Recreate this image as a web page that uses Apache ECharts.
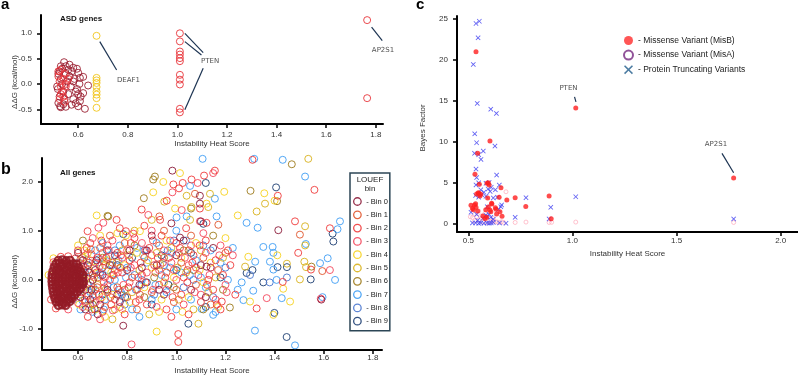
<!DOCTYPE html>
<html lang="en">
<head>
    <title>Instability Heat Score</title>
    <meta charset="utf-8" />
    <script src="https://cdn.jsdelivr.net/npm/echarts@6/dist/echarts.min.js"></script>
    <style>
        html, body { margin: 0; padding: 0; background: #fff; }
        #main { width: 798px; height: 380px; }
    </style>
</head>
<body>
<div id="main"></div>
<script>
    // ---- panel a : ASD genes ----
    let asdDark = [[0.543,0.43],[0.55,0.35],[0.565,0.38],[0.58,0.32],[0.6,0.22],[0.607,0.12],[0.62,0.14],[0.64,-0.03],
        [0.62,-0.18],[0.607,-0.34],[0.627,-0.49],[0.6,-0.44],[0.573,-0.41],[0.527,-0.44],[0.52,-0.375],[0.53,-0.46],
        [0.515,-0.05],[0.518,-0.1],[0.52,0.2],[0.525,0.25],[0.53,0.1],[0.535,0.0],[0.54,-0.15],[0.545,-0.3],[0.55,0.2],
        [0.555,0.05],[0.56,-0.2],[0.565,0.15],[0.57,-0.05],[0.575,0.25],[0.58,-0.3],[0.585,0.1],[0.59,-0.15],[0.595,0.3],
        [0.6,-0.2],[0.595,-0.1],[0.605,0.0],[0.61,-0.25],[0.53,0.35],[0.54,-0.4],[0.55,-0.45],[0.525,-0.25],[0.535,0.3],
        [0.56,0.28],[0.58,0.05],[0.59,-0.38]]
    let asdRed = [[0.52,0.15],[0.525,0.05],[0.53,-0.05],[0.535,-0.15],[0.54,0.1],[0.545,0.2],[0.53,-0.2],[0.525,-0.3],
        [0.55,-0.05],[0.54,-0.25],[0.52,0.25],[0.53,0.28],[0.545,-0.35],[0.56,0.1],[0.55,0.0],
        [1.01,1.0],[1.01,0.84],[1.01,0.64],[1.01,0.58],[1.01,0.51],[1.01,0.45],[1.01,0.18],[1.01,0.085],[1.01,-0.01],
        [1.01,-0.49],[1.01,-0.56],[1.765,1.26],[1.765,-0.28]]
    let asdYellow = [[0.674,0.95],[0.674,0.12],[0.674,0.07],[0.674,0.02],[0.674,-0.06],[0.674,-0.15],[0.674,-0.21],
        [0.674,-0.28],[0.674,-0.47]]
    let asdLabels = [['DEAF1',0.756,0.08],['PTEN',1.095,0.44],['AP2S1',1.784,0.67]]
    let asdPointers = [[[0.687,0.835],[0.755,0.276]],[[1.03,1.0],[1.104,0.62]],[[1.03,0.835],[1.097,0.57]],
        [[1.03,-0.51],[1.104,0.31]],[[1.783,1.12],[1.826,0.855]]]

    // ---- panel b : all genes, by LOUEF bin ----
    let binNames = ['Bin 0','Bin 1','Bin 2','Bin 3','Bin 4','Bin 5','Bin 6','Bin 7','Bin 8','Bin 9']
    let binColors = ['#8c1c3a','#e0552c','#ef3b3b','#f4475c','#f6d11f','#d8b11c','#9d7b1c','#3f9df4','#4b78cf','#1d3e72']
    // the dense bin 0 core near 0.5-0.6
    let bin0Core = [[0.52,0.4],[0.536,0.41],[0.552,0.39],[0.568,0.4],
        [0.51,0.33],[0.524,0.34],[0.538,0.32],[0.553,0.33],[0.567,0.31],[0.581,0.33],[0.595,0.32],
        [0.503,0.26],[0.517,0.25],[0.531,0.27],[0.546,0.25],[0.56,0.26],[0.574,0.24],[0.588,0.26],[0.602,0.25],
        [0.498,0.18],[0.512,0.19],[0.526,0.17],[0.541,0.18],[0.555,0.19],[0.569,0.17],[0.583,0.18],[0.597,0.19],[0.611,0.17],
        [0.495,0.11],[0.509,0.1],[0.523,0.12],[0.537,0.11],[0.551,0.1],[0.565,0.12],[0.579,0.1],[0.593,0.11],[0.607,0.12],[0.62,0.1],
        [0.494,0.04],[0.508,0.05],[0.522,0.03],[0.536,0.04],[0.55,0.05],[0.564,0.03],[0.578,0.04],[0.592,0.05],[0.606,0.03],[0.62,0.04],
        [0.494,-0.03],[0.508,-0.02],[0.522,-0.04],[0.536,-0.03],[0.55,-0.02],[0.564,-0.04],[0.578,-0.03],[0.592,-0.02],[0.606,-0.04],[0.62,-0.03],
        [0.495,-0.1],[0.509,-0.11],[0.523,-0.09],[0.537,-0.1],[0.551,-0.11],[0.565,-0.09],[0.579,-0.1],[0.593,-0.11],[0.607,-0.09],[0.619,-0.1],
        [0.497,-0.17],[0.511,-0.16],[0.525,-0.18],[0.539,-0.17],[0.553,-0.16],[0.567,-0.18],[0.581,-0.17],[0.595,-0.16],[0.609,-0.18],
        [0.499,-0.24],[0.513,-0.25],[0.527,-0.23],[0.541,-0.24],[0.555,-0.25],[0.569,-0.23],[0.583,-0.24],[0.597,-0.25],
        [0.502,-0.31],[0.516,-0.3],[0.53,-0.32],[0.544,-0.31],[0.558,-0.3],[0.572,-0.32],[0.586,-0.31],
        [0.506,-0.38],[0.52,-0.39],[0.534,-0.37],[0.548,-0.38],[0.562,-0.39],[0.575,-0.37],
        [0.511,-0.45],[0.525,-0.44],[0.539,-0.46],[0.553,-0.45],[0.567,-0.44],
        [0.52,-0.52],[0.535,-0.51],[0.55,-0.52]]
    let bin0 = [[0.62,0.1],[0.63,-0.2],[0.64,0.3],[0.65,-0.4],[0.66,0.0],[0.67,0.2],[0.61,-0.35],[0.62,0.4],
        [0.984,2.22],[1.096,1.71],[1.096,1.55],[1.015,0.86],[1.1,1.19],[1.123,0.27],[1.415,1.01],[0.784,-0.93],
        [1.59,-0.4],[0.7,0.1],[0.72,-0.2],[0.75,0.5],[0.8,0.2],[0.85,-0.1],[0.88,0.6],[0.92,0.3],[0.95,-0.3],
        [1.0,0.5],[1.03,0.8],[1.06,-0.2],[1.1,0.3],[1.12,-0.35],[1.15,0.65],[0.98,1.15],[0.9,0.9],[0.63,-0.6],
        [0.68,-0.7],[0.77,-0.45],[0.6,0.55],[0.625,-0.05],[0.645,0.15],[0.655,-0.2],[0.675,0.4],[0.69,-0.5],
        [0.73,0.3],[0.76,-0.3],[0.81,0.6],[0.86,0.25],[0.93,-0.2]]
    let bin1 = [[0.61,0.42],[0.64,0.2],[0.66,-0.35],[0.69,0.65],[0.71,-0.55],[0.74,0.35],[0.76,-0.15],[0.79,0.75],
        [0.82,0.05],[0.84,-0.6],[0.87,0.45],[0.9,-0.25],[0.93,0.7],[0.96,0.15],[0.99,-0.45],[1.02,0.35],[1.05,0.6],
        [1.08,-0.1],[1.11,0.45],[1.14,-0.5],[1.17,0.2],[1.2,0.55],[0.62,-0.15],[0.68,0.05],[0.73,0.9],[0.8,-0.35],
        [0.95,1.0],[1.0,-0.2],[1.06,0.9],[1.076,1.75],[0.931,1.29],[1.171,1.12],[1.503,0.92],[1.594,0.18],
        [0.608,0.25],[0.628,-0.4],[0.652,0.62],[0.678,-0.15],[0.705,0.38],[0.732,-0.35],[0.772,0.25],[0.852,-0.3],
        [0.915,0.15],[1.045,0.2]]
    let bin2 = [[0.6,0.6],[0.62,0.3],[0.63,-0.45],[0.65,0.75],[0.66,0.1],[0.67,-0.2],[0.68,0.45],[0.7,0.25],
        [0.7,-0.65],[0.72,0.7],[0.73,0.0],[0.75,-0.4],[0.76,0.55],[0.78,0.15],[0.79,-0.7],[0.81,0.4],[0.83,0.85],
        [0.84,-0.2],[0.86,0.1],[0.88,-0.5],[0.89,0.65],[0.91,0.3],[0.93,-0.1],[0.94,0.9],[0.96,-0.6],[0.97,0.45],
        [0.99,0.2],[1.0,0.75],[1.02,-0.3],[1.03,0.05],[1.05,-0.7],[1.07,0.5],[1.08,0.25],[1.1,-0.45],[1.12,0.8],
        [1.13,0.0],[1.15,-0.2],[1.16,0.4],[1.18,-0.6],[1.19,0.1],[1.22,0.3],[1.24,-0.3],[0.64,-0.75],[0.77,1.05],
        [0.87,1.1],[0.98,-0.75],[1.04,1.05],[0.53,0.47],[0.56,0.48],[0.59,0.44],[0.49,-0.4],[0.51,-0.58],
        [1.31,2.44],[1.026,1.97],[1.062,2.04],[1.113,2.12],[1.157,2.22],[0.988,1.94],[1.011,1.86],[0.961,1.61],
        [1.096,1.45],[0.859,1.43],[0.934,1.22],[1.123,1.16],[0.757,1.22],[0.795,0.99],[0.639,0.99],[1.413,1.71],
        [1.562,1.83],[1.483,1.19],[1.625,1.05],[1.496,0.55],[1.548,0.21],[1.433,-0.04],[1.327,-0.58],
        [1.008,-1.1],[1.008,-1.26],[1.185,-0.44],
        [0.605,0.05],[0.615,-0.25],[0.635,0.65],[0.645,0.35],[0.655,-0.6],[0.675,0.15],[0.685,-0.3],[0.695,0.8],
        [0.705,-0.05],[0.715,0.45],[0.735,-0.5],[0.745,0.1],[0.765,-0.2],[0.775,0.5],[0.805,-0.15],[0.815,0.75],
        [0.835,-0.45],[0.855,0.35],[0.875,-0.05],[0.905,0.8],[0.925,0.45],[0.955,0.05],[0.985,-0.35],[1.015,0.65],
        [1.045,-0.05],[1.065,0.35],[1.095,0.7],[1.125,-0.1],[1.165,-0.5],[1.21,0.6]]
    let bin3 = [[0.61,0.15],[0.62,-0.55],[0.63,0.5],[0.65,-0.05],[0.66,0.85],[0.67,0.35],[0.69,-0.4],[0.7,0.55],
        [0.71,0.05],[0.72,-0.25],[0.74,0.8],[0.75,0.2],[0.77,-0.55],[0.78,0.45],[0.8,0.6],[0.81,-0.05],[0.83,0.3],
        [0.85,-0.4],[0.86,0.75],[0.88,0.15],[0.9,0.5],[0.92,-0.55],[0.93,0.2],[0.95,0.6],[0.96,-0.2],[0.98,0.35],
        [1.0,0.0],[1.01,0.55],[1.03,-0.5],[1.05,0.3],[1.06,0.7],[1.09,0.1],[1.1,-0.3],[1.12,0.55],[1.14,0.25],
        [1.16,-0.4],[1.18,0.7],[1.2,-0.1],[1.23,0.5],[0.69,-0.8],[0.9,1.0],[1.11,0.95],[0.5,0.36],[0.56,-0.6],
        [0.6,-0.47],[0.61,0.34],[1.087,1.97],[1.15,2.17],[0.984,1.78],[1.022,1.42],[0.886,1.32],[1.096,1.19],
        [0.703,1.16],[0.825,0.94],[0.683,1.06],[1.625,0.2],[1.368,-0.37],[1.588,-0.38],[0.818,-1.31],[1.205,-0.25],
        [0.602,-0.12],[0.625,0.2],[0.642,-0.32],[0.655,0.52],[0.672,-0.45],[0.688,0.28],[0.708,-0.15],[0.725,0.6],
        [0.742,-0.62],[0.762,0.15],[0.785,-0.1],[0.815,0.25],[0.845,0.05],[0.875,0.6],[0.905,-0.2],[0.945,0.35],
        [0.975,0.8],[1.035,0.45],[1.075,-0.25],[1.135,0.1],[1.175,0.5]]
    let bin4 = [[0.6,0.7],[0.63,0.0],[0.65,0.4],[0.67,-0.6],[0.69,0.9],[0.72,0.4],[0.74,-0.3],[0.76,0.95],
        [0.79,0.3],[0.81,-0.45],[0.84,0.55],[0.87,-0.15],[0.9,0.25],[0.93,-0.65],[0.96,0.8],[0.99,0.05],[1.02,0.45],
        [1.05,-0.35],[1.08,0.75],[1.11,-0.05],[1.14,0.35],[1.17,-0.55],[1.2,0.85],[0.71,-0.75],[0.78,-0.6],
        [0.94,-0.4],[0.5,0.44],[0.48,0.1],[1.015,2.17],[0.947,1.99],[0.906,1.78],[1.123,1.55],[0.995,1.45],
        [1.195,1.79],[0.676,1.31],[0.852,0.99],[1.358,1.76],[1.4,1.61],[1.25,1.31],[1.411,0.5],[1.293,0.47],
        [1.435,-0.18],[1.3,-0.44],[1.463,-0.44],[1.395,-0.71],[0.92,-1.05],
        [0.605,-0.5],[0.625,0.6],[0.648,-0.2],[0.668,0.25],[0.698,-0.35],[0.735,0.15],[0.795,0.9],[0.885,0.4],
        [1.025,-0.65],[1.095,0.2]]
    let bin5 = [[0.61,-0.3],[0.64,0.55],[0.68,-0.1],[0.71,0.3],[0.75,-0.6],[0.78,0.6],[0.82,-0.25],[0.85,0.2],
        [0.89,-0.7],[0.92,0.55],[0.95,-0.05],[0.98,0.65],[1.01,-0.4],[1.04,0.15],[1.07,-0.6],[1.1,0.6],[1.13,-0.25],
        [1.16,0.05],[1.19,0.45],[0.74,-0.8],[0.83,1.0],[1.537,2.46],[1.042,1.71],[1.137,1.75],[0.951,1.59],
        [1.062,1.48],[1.13,1.48],[0.9,1.22],[1.056,1.22],[1.327,1.39],[1.361,1.55],[1.524,1.09],[1.524,0.7],
        [1.28,0.27],[1.45,0.33],[1.521,0.37],[1.528,0.26],[1.503,0.01],[1.09,-0.89],
        [0.618,0.45],[0.642,-0.55],[0.665,0.05],[0.712,-0.2],[0.758,0.35],[0.808,0.5],[0.935,0.3],[1.005,0.25]]
    let bin6 = [[0.62,0.8],[0.66,-0.5],[0.7,0.45],[0.74,0.1],[0.79,-0.2],[0.83,0.7],[0.87,-0.35],[0.91,0.05],
        [0.95,0.45],[0.99,-0.15],[1.03,0.6],[1.07,0.2],[1.11,-0.6],[1.15,0.9],[1.19,-0.2],[0.72,1.3],[1.47,2.35],
        [0.913,2.1],[0.906,2.04],[0.868,1.66],[1.06,1.45],[0.723,1.29],[1.302,1.81],[1.55,0.27],[1.218,-0.56],
        [1.41,1.6]]
    let bin7 = [[0.61,-0.6],[0.63,0.25],[0.65,-0.25],[0.67,0.6],[0.69,0.15],[0.71,-0.4],[0.73,0.5],[0.75,0.0],
        [0.77,0.7],[0.78,-0.3],[0.8,0.25],[0.82,-0.6],[0.84,0.65],[0.86,0.0],[0.88,0.35],[0.9,-0.4],[0.92,0.75],
        [0.94,0.1],[0.96,-0.25],[0.98,0.55],[1.0,-0.6],[1.02,0.15],[1.04,0.8],[1.06,-0.4],[1.08,0.4],[1.1,0.05],
        [1.12,-0.15],[1.14,0.6],[1.16,-0.65],[1.18,0.35],[1.21,0.0],[1.23,0.65],[1.25,-0.2],[0.66,-0.65],
        [0.85,-0.75],[1.0,1.0],[1.107,2.46],[1.317,2.46],[1.433,2.44],[1.056,1.91],[1.157,1.65],[1.001,1.27],
        [1.042,1.29],[1.164,1.29],[1.524,2.1],[1.286,1.16],[1.331,1.06],[1.666,1.19],[1.656,1.03],[1.392,0.67],
        [1.395,0.55],[1.354,0.67],[1.321,0.37],[1.381,0.37],[1.395,0.21],[1.585,0.34],[1.616,0.44],[1.408,0.0],
        [1.646,0.0],[1.266,-0.05],[1.313,-0.22],[1.273,-0.41],[1.429,-0.37],[1.595,-0.35],[1.32,-1.03],
        [1.483,-1.33],[1.103,-0.59],[1.15,-0.71],[1.527,0.73],
        [0.602,0.35],[0.618,-0.42],[0.638,0.05],[0.662,-0.15],[0.685,0.42],[0.705,-0.6],[0.722,0.2],[0.745,-0.15],
        [0.765,0.4],[0.795,0.05],[0.835,-0.2],[0.865,0.5],[0.915,-0.1],[0.975,0.25],[1.055,0.1]]
    let bin8 = [[0.62,0.05],[0.65,-0.5],[0.68,0.35],[0.72,-0.1],[0.75,0.6],[0.79,-0.5],[0.83,0.1],[0.87,0.6],
        [0.91,-0.3],[0.95,0.3],[0.99,0.8],[1.03,-0.15],[1.07,0.0],[1.11,0.7],[1.15,-0.35],[1.2,0.25],[1.3,0.1],
        [1.45,0.05],[1.38,-0.05],[0.7,0.75],[0.58,-0.4],[0.6,0.2],
        [0.612,-0.2],[0.635,0.4],[0.66,-0.3],[0.692,0.1],[0.738,0.3],[0.775,-0.25],[0.858,-0.1],[0.965,0.6]]
    let bin9 = [[0.64,-0.1],[0.7,-0.3],[0.76,0.3],[0.82,0.45],[0.88,-0.05],[0.94,0.5],[1.0,0.2],[1.06,0.55],
        [1.12,-0.55],[1.18,0.05],[0.9,-0.5],[1.14,0.25],[1.12,1.97],[1.11,1.14],[0.784,0.93],[1.406,1.88],
        [1.636,0.94],[1.639,0.78],[1.286,0.14],[1.31,0.2],[1.412,0.26],[1.45,0.26],[1.547,0.01],[1.354,-0.05],
        [1.399,-0.67],[1.449,-1.16],[1.049,-0.89],
        [0.628,0.15],[0.668,-0.6],[0.718,0.6],[0.792,-0.35],[0.968,-0.1]]
    let bins = [bin0, bin1, bin2, bin3, bin4, bin5, bin6, bin7, bin8, bin9]

    // ---- panel c : Bayes factor ----
    let misB = [[0.537,21.0],[1.016,14.1],[1.774,5.55],[0.604,10.06],[0.545,8.56],[0.532,5.99],[0.553,4.77],
        [0.596,4.96],[0.657,4.35],[0.888,3.34],[0.725,3.13],[0.648,3.2],[0.593,3.1],[0.685,2.85],[0.776,2.05],
        [0.513,2.2],[0.53,2.25],[0.537,1.95],[0.524,1.65],[0.584,1.65],[0.596,2.0],[0.613,2.36],[0.608,1.42],
        [0.633,1.71],[0.636,1.14],[0.652,1.42],[0.662,0.85],[0.588,0.73],[0.58,0.6],[0.898,0.55],[0.551,3.67],
        [0.556,3.34],[0.54,3.6],[0.56,3.55],[0.59,4.9],[0.6,4.7],[0.548,3.74],[0.535,2.4],[0.612,2.44],[0.63,1.9],
        [0.604,1.63],[0.52,1.8],[0.545,1.5],[0.57,0.9]]
    let misA = [[0.52,0.7],[0.53,1.1],[0.54,0.8],[0.55,0.4],[0.56,0.9],[0.57,0.2],[0.58,0.5],[0.6,0.3],[0.61,0.2],
        [0.62,0.3],[0.63,0.2],[0.64,0.15],[0.65,0.1],[0.66,0.2],[0.67,0.1],[0.53,0.3],[0.51,0.8],[0.55,1.5],
        [0.58,1.2],[0.681,3.86],[0.725,0.1],[0.777,0.15],[0.888,0.1],[0.9,0.12],[1.016,0.15],[1.774,0.1],
        [0.62,0.6],[0.59,0.1]]
    let ptv = [[0.537,24.45],[0.553,24.73],[0.547,22.7],[0.524,19.44],[0.543,14.67],[0.608,13.97],[0.635,13.45],
        [0.531,10.95],[0.54,9.86],[0.628,9.45],[0.53,8.56],[0.55,8.4],[0.572,8.84],[0.561,7.82],[0.537,6.64],
        [0.636,5.9],[0.54,5.6],[0.537,4.7],[0.585,4.89],[0.61,4.4],[0.63,4.1],[0.649,4.68],[0.56,4.1],[0.575,3.8],
        [0.595,4.2],[0.605,3.9],[0.62,3.1],[0.64,3.2],[0.535,3.4],[0.55,3.2],[0.565,3.5],[0.585,3.3],[0.777,3.13],
        [1.016,3.25],[0.513,1.34],[0.54,1.1],[0.725,0.73],[0.681,0.0],[0.896,1.96],[0.888,0.53],[1.774,0.53],
        [0.656,2.03],[0.66,2.25],[0.645,1.7],[0.591,2.03],[0.585,1.0],[0.59,0.8],[0.608,0.73],[0.6,1.1],[0.52,0.05],
        [0.535,0.05],[0.55,0.0],[0.56,0.05],[0.575,0.0],[0.59,0.05],[0.6,0.0],[0.61,0.05],[0.62,0.1],[0.65,0.05],
        [0.545,0.35],[0.57,0.6],[0.62,0.5],[0.55,4.95],[0.6,5.0]]
    let bfLabels = [['PTEN',0.981,16.57],['AP2S1',1.689,9.66]]
    let bfPointers = [[[1.01,15.48],[1.017,14.87]],[[1.718,8.56],[1.774,6.19]]]

    let ticksAX = [0.6, 0.8, 1.0, 1.2, 1.4, 1.6, 1.8]
    let ticksAY = [-0.5, 0.0, 0.5, 1.0]
    let ticksBY = [-1.0, 0.0, 1.0, 2.0]
    let ticksCX = [0.5, 1.0, 1.5, 2.0]
    let ticksCY = [0, 5, 10, 15, 20, 25]

    let font = 'Liberation Sans, Arial, sans-serif'
    let xMark = 'path://M0,1.2L1.2,0L5,3.8L8.8,0L10,1.2L6.2,5L10,8.8L8.8,10L5,6.2L1.2,10L0,8.8L3.8,5Z'

    function axis(gi, min, max, ticks, margin, fmt, name, nameGap) {
        return {
            type: 'value', gridIndex: gi, min: min, max: max,
            name: name, nameLocation: 'middle', nameGap: nameGap,
            nameTextStyle: { fontSize: 8, color: '#333', fontFamily: font },
            axisLine: { show: true, onZero: false, lineStyle: { color: '#000', width: 2 } },
            axisTick: { show: true, length: 4, customValues: ticks, lineStyle: { color: '#000', width: 1.5 } },
            axisLabel: { customValues: ticks, margin: margin, fontSize: 8, color: '#333', fontFamily: font, formatter: fmt },
            splitLine: { show: false }
        }
    }
    let f1 = v => v.toFixed(1)
    // the source figure prints the 0.5 tick of panel a as "-0.5"
    let fA = v => Math.abs(v - 0.5) < 1e-6 ? '-0.5' : v.toFixed(1)

    function rings(name, data, color, gx, size, width) {
        return {
            name: name, type: 'scatter', xAxisIndex: gx, yAxisIndex: gx, data: data,
            symbol: 'circle', symbolSize: size, silent: true,
            itemStyle: { color: 'rgba(0,0,0,0)', borderColor: color, borderWidth: width, opacity: 0.9 }
        }
    }
    function pointers(list, gx) {
        return list.map(seg => ({
            type: 'line', xAxisIndex: gx, yAxisIndex: gx, data: seg, symbol: 'none', silent: true,
            lineStyle: { color: '#1d3452', width: 1.2 }
        }))
    }
    function names(list, gx, align) {
        return {
            type: 'scatter', xAxisIndex: gx, yAxisIndex: gx, symbolSize: 1, silent: true,
            itemStyle: { color: 'rgba(0,0,0,0)' },
            data: list.map(l => ({ name: l[0], value: [l[1], l[2]] })),
            label: { show: true, position: 'inside', align: align, verticalAlign: 'middle', formatter: p => p.name,
                fontSize: 7, color: '#222', fontFamily: 'DejaVu Sans, sans-serif' }
        }
    }

    let series = []
    series.push(rings('asdDark', asdDark, '#9b2133', 0, 7, 1))
    series.push(rings('asdRed', asdRed, '#e8343a', 0, 7, 1))
    series.push(rings('asdYellow', asdYellow, '#f2c51c', 0, 7, 1))
    series = series.concat(pointers(asdPointers, 0))
    series.push(names(asdLabels, 0, 'left'))
    for (let i = bins.length - 1; i >= 0; i--) {
        series.push(rings(binNames[i], bins[i], binColors[i], 1, 7, 1))
    }
    series.push(rings('Bin 0', bin0Core, '#931b26', 1, 7, 2.2))
    series.push({
        name: 'Missense Variant (MisA)', type: 'scatter', xAxisIndex: 2, yAxisIndex: 2, data: misA,
        symbol: 'circle', symbolSize: 4, silent: true,
        itemStyle: { color: 'rgba(0,0,0,0)', borderColor: '#ffb3c2', borderWidth: 1 }
    })
    series.push({
        name: 'Protein Truncating Variants', type: 'scatter', xAxisIndex: 2, yAxisIndex: 2, data: ptv,
        symbol: xMark, symbolSize: 5, silent: true, itemStyle: { color: '#3b3bf0' }
    })
    series.push({
        name: 'Missense Variant (MisB)', type: 'scatter', xAxisIndex: 2, yAxisIndex: 2, data: misB,
        symbol: 'circle', symbolSize: 5, silent: true, itemStyle: { color: '#ff1f1f' }
    })
    series = series.concat(pointers(bfPointers, 2))
    series.push(names(bfLabels, 2, 'center'))

    let chart = echarts.init(document.getElementById('main'))
    chart.setOption({
        animation: false,
        textStyle: { fontFamily: font },
        grid: [
            { left: 41, top: 15, width: 342, height: 109 },
            { left: 42, top: 158, width: 340, height: 198.7 },
            { left: 457, top: 16, width: 341, height: 216 }
        ],
        xAxis: [
            axis(0, 0.45, 1.829, ticksAX, 7, f1, 'Instability Heat Score', 16),
            axis(1, 0.4535, 1.837, ticksAX, 4, f1, 'Instability Heat Score', 16),
            axis(2, 0.4458, 2.083, ticksCX, 5, f1, 'Instability Heat Score', 15)
        ],
        yAxis: [
            axis(0, -0.79, 1.361, ticksAY, 9, fA),
            axis(1, -1.426, 2.477, ticksBY, 9, f1),
            axis(2, -1.065, 25.37, ticksCY, 9, v => String(v))
        ],
        legend: [
            {
                orient: 'vertical', left: 350, top: 173, backgroundColor: '#fff',
                borderColor: '#2c4656', borderWidth: 1.5, borderRadius: 0,
                padding: [24, 2, 5, 3], itemWidth: 7.5, itemHeight: 7.5, itemGap: 4.3,
                formatter: '- {name}', selectedMode: false,
                textStyle: { fontSize: 7.5, lineHeight: 9, color: '#222', fontFamily: font },
                data: binNames.map((n, i) => ({
                    name: n, icon: 'circle',
                    itemStyle: { color: '#fff', borderColor: binColors[i], borderWidth: 1.3 }
                }))
            },
            {
                orient: 'vertical', left: 623, top: 36, padding: 0,
                itemWidth: 9, itemHeight: 9, itemGap: 4.6,
                formatter: '- {name}', selectedMode: false,
                textStyle: { fontSize: 8.5, color: '#222', fontFamily: font },
                data: [
                    { name: 'Missense Variant (MisB)', icon: 'circle', itemStyle: { color: '#ff2a2a' } },
                    { name: 'Missense Variant (MisA)', icon: 'circle',
                        itemStyle: { color: '#fff', borderColor: '#76287f', borderWidth: 2 } },
                    { name: 'Protein Truncating Variants', icon: xMark, itemStyle: { color: '#1f5b8b' } }
                ]
            }
        ],
        graphic: [
            { type: 'text', x: 1, y: -3, z: 100, style: { text: 'a', font: 'bold 15px ' + font, fill: '#000' } },
            { type: 'text', x: 1, y: 162, z: 100, style: { text: 'b', font: 'bold 16px ' + font, fill: '#000' } },
            { type: 'text', x: 416, y: -3, z: 100, style: { text: 'c', font: 'bold 15px ' + font, fill: '#000' } },
            { type: 'text', x: 60, y: 19, z: 100, style: { text: 'ASD genes', font: 'bold 8px ' + font, fill: '#111',
                    verticalAlign: 'middle', textVerticalAlign: 'middle' } },
            { type: 'text', x: 60, y: 172.5, z: 100, style: { text: 'All genes', font: 'bold 8px ' + font, fill: '#111',
                    verticalAlign: 'middle', textVerticalAlign: 'middle' } },
            { type: 'text', x: 15, y: 82, rotation: Math.PI / 2, z: 100, style: { text: 'ΔΔG (kcal/mol)',
                    font: '8px ' + font, fill: '#333', align: 'center', textAlign: 'center',
                    verticalAlign: 'middle', textVerticalAlign: 'middle' } },
            { type: 'text', x: 15, y: 281.7, rotation: Math.PI / 2, z: 100, style: { text: 'ΔΔG (kcal/mol)',
                    font: '8px ' + font, fill: '#333', align: 'center', textAlign: 'center',
                    verticalAlign: 'middle', textVerticalAlign: 'middle' } },
            { type: 'text', x: 423, y: 128, rotation: Math.PI / 2, z: 100, style: { text: 'Bayes Factor',
                    font: '8px ' + font, fill: '#333', align: 'center', textAlign: 'center',
                    verticalAlign: 'middle', textVerticalAlign: 'middle' } },
            { type: 'text', x: 370, y: 179.5, z: 100, style: { text: 'LOUEF', font: '8px ' + font, fill: '#222',
                    align: 'center', textAlign: 'center', verticalAlign: 'middle', textVerticalAlign: 'middle' } },
            { type: 'text', x: 370, y: 188.5, z: 100, style: { text: 'bin', font: '8px ' + font, fill: '#222',
                    align: 'center', textAlign: 'center', verticalAlign: 'middle', textVerticalAlign: 'middle' } }
        ],
        series: series
    })
</script>
</body>
</html>
